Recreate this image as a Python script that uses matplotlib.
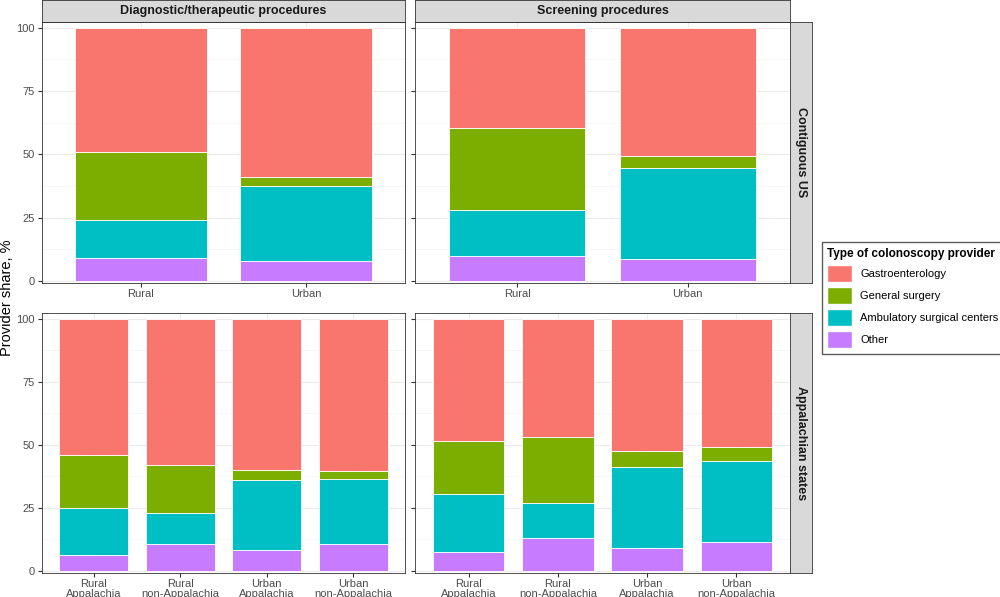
import matplotlib.pyplot as plt
from matplotlib.patches import Patch
import numpy as np

providers = ['Gastroenterology', 'General surgery', 'Ambulatory surgical centers', 'Other']
colors = {'Gastroenterology': '#F8766D', 'General surgery': '#7CAE00',
          'Ambulatory surgical centers': '#00BFC4', 'Other': '#C77CFF'}

cats_top = ['Rural', 'Urban']
cats_bot = ['Rural\nAppalachia', 'Rural\nnon-Appalachia', 'Urban\nAppalachia', 'Urban\nnon-Appalachia']

# shares: Other, ASC, General surgery, Gastroenterology
diag_top = {'Other': [9, 8], 'Ambulatory surgical centers': [15, 29.5],
            'General surgery': [27, 3.5], 'Gastroenterology': [49, 59]}
scr_top = {'Other': [10, 8.5], 'Ambulatory surgical centers': [18, 36],
           'General surgery': [32.5, 5], 'Gastroenterology': [39.5, 50.5]}
diag_bot = {'Other': [6.5, 10.5, 8.5, 10.5], 'Ambulatory surgical centers': [18.5, 12.5, 27.5, 26],
            'General surgery': [21, 19, 4, 3], 'Gastroenterology': [54, 58, 60, 60.5]}
scr_bot = {'Other': [7.5, 13, 9, 11.5], 'Ambulatory surgical centers': [23, 14, 32, 32],
           'General surgery': [21, 26, 6.5, 5.5], 'Gastroenterology': [48.5, 47, 52.5, 51]}

W, H = 1000, 597
fig = plt.figure(figsize=(W / 100, H / 100), dpi=100)
plt.rcParams['font.family'] = 'Liberation Sans'


def px_axes(x0, y0, x1, y1):
    return fig.add_axes([x0 / W, 1 - y1 / H, (x1 - x0) / W, (y1 - y0) / H])


def draw_panel(ax, cats, data):
    x = np.arange(len(cats))
    bottom = np.zeros(len(cats))
    for p in ['Other', 'Ambulatory surgical centers', 'General surgery', 'Gastroenterology']:
        vals = np.array(data[p])
        ax.bar(x, vals, 0.8, bottom=bottom, color=colors[p], edgecolor='white', linewidth=0.6, zorder=3)
        bottom += vals
    ax.set_xlim(-0.6, len(cats) - 0.4)
    ax.set_ylim(-0.8, 102.2)
    ax.set_yticks([0, 25, 50, 75, 100])
    ax.set_yticks([12.5, 37.5, 62.5, 87.5], minor=True)
    ax.set_xticks(x)
    ax.set_xticklabels(cats, fontsize=8, color='#4d4d4d', linespacing=0.95)
    ax.tick_params(axis='y', labelsize=8, labelcolor='#4d4d4d', length=3, color='#333333', pad=2)
    ax.tick_params(axis='x', length=3, color='#333333', pad=1.5)
    ax.tick_params(which='minor', length=0)
    ax.grid(True, which='major', color='#ebebeb', linewidth=0.8, zorder=0)
    ax.grid(True, which='minor', color='#f3f3f3', linewidth=0.5, zorder=0)
    for s in ax.spines.values():
        s.set_color('#333333')
        s.set_linewidth(0.6)


def strip(x0, y0, x1, y1, text, rot=0):
    a = px_axes(x0, y0, x1, y1)
    a.set_facecolor('#d9d9d9')
    a.set_xticks([]); a.set_yticks([])
    for s in a.spines.values():
        s.set_color('#333333'); s.set_linewidth(0.6)
    a.text(0.5, 0.5, text, ha='center', va='center', rotation=rot, fontsize=9,
           fontweight='bold', color='#1a1a1a', transform=a.transAxes)


cols = [(42, 405), (415, 790)]
rows = [(22, 283), (313, 573)]
panels = [[(cats_top, diag_top), (cats_top, scr_top)],
          [(cats_bot, diag_bot), (cats_bot, scr_bot)]]
for r, (y0, y1) in enumerate(rows):
    for c, (x0, x1) in enumerate(cols):
        ax = px_axes(x0, y0, x1, y1)
        cats, data = panels[r][c]
        draw_panel(ax, cats, data)
        if c == 1:
            ax.set_yticklabels([])
        if r == 0:
            strip(x0, 0, x1, 22, ['Diagnostic/therapeutic procedures', 'Screening procedures'][c])
    strip(790, y0, 812, y1, ['Contiguous US', 'Appalachian states'][r], rot=-90)

fig.text(7 / W, 1 - 298 / H, 'Provider share, %', rotation=90, va='center', ha='center', fontsize=10.5)

handles = [Patch(facecolor=colors[p], edgecolor='white') for p in providers]
fig.legend(handles, providers, loc='center left', bbox_to_anchor=(816 / W, 1 - 298 / H),
           title='Type of colonoscopy provider', title_fontproperties={'weight': 'bold', 'size': 8.5},
           fontsize=8, frameon=True, edgecolor='#333333', fancybox=False,
           handlelength=2.2, handleheight=2.0, labelspacing=0.45, alignment='left',
           borderpad=0.5, handletextpad=0.8)

fig.savefig('out.png', dpi=100)
